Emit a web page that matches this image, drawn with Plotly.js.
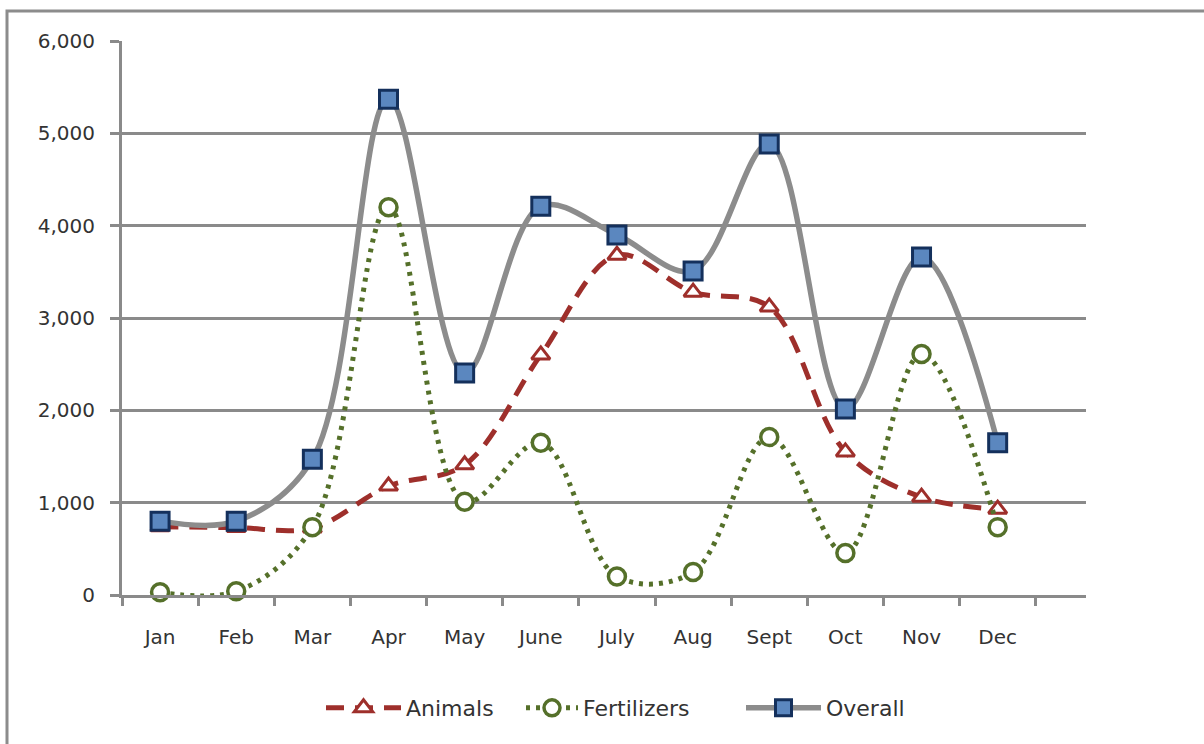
<!DOCTYPE html>
<html>
<head>
<meta charset="utf-8">
<script src="https://cdn.plot.ly/plotly-3.0.1.min.js"></script>
<style>html,body{margin:0;padding:0;background:#fff;}#chart{width:1204px;height:744px;}</style>
</head>
<body>
<div id="chart"></div>
<script>
var months = ["Jan","Feb","Mar","Apr","May","June","July","Aug","Sept","Oct","Nov","Dec"];
var animals = [740, 730, 725, 1180, 1410, 2600, 3680, 3280, 3120, 1550, 1060, 930];
var fertilizers = [30, 40, 735, 4200, 1010, 1650, 200, 250, 1710, 455, 2610, 735];
var overall = [800, 800, 1470, 5370, 2405, 4210, 3900, 3510, 4885, 2015, 3660, 1650];
var yTicks = [0, 1000, 2000, 3000, 4000, 5000, 6000];
var yTickText = ["0", "1,000", "2,000", "3,000", "4,000", "5,000", "6,000"];

var gridCol = "#8a8a8a";
var font = {family: "DejaVu Sans, Verdana, sans-serif", size: 20, color: "#333333"};

var traces = [
  {
    x: months, y: animals, name: "Animals", type: "scatter", mode: "lines+markers", legend: "legend",
    line: {color: "#9e2f2b", width: 5, dash: "18px,11px", shape: "spline", smoothing: 1},
    marker: {symbol: "triangle-up", size: 16, color: "#ffffff", line: {color: "#9e2f2b", width: 3}},
    cliponaxis: false
  },
  {
    x: months, y: fertilizers, name: "Fertilizers", type: "scatter", mode: "lines+markers", legend: "legend2",
    line: {color: "#55702a", width: 5, dash: "4px,6px", shape: "spline", smoothing: 1},
    marker: {symbol: "circle", size: 17, color: "#ffffff", line: {color: "#55702a", width: 3.5}},
    cliponaxis: false
  },
  {
    x: months, y: overall, name: "Overall", type: "scatter", mode: "lines+markers", legend: "legend3",
    line: {color: "#8c8c8c", width: 5.5, shape: "spline", smoothing: 1},
    marker: {symbol: "square", size: 18, color: "#5b87bf", line: {color: "#14305c", width: 3}},
    cliponaxis: false
  }
];

function legendAt(px, w) {
  return {
    orientation: "h", x: (px - 122) / 964, xanchor: "left", y: -0.204, yanchor: "middle",
    font: {family: "DejaVu Sans, Verdana, sans-serif", size: 22, color: "#333333"},
    itemwidth: w, borderwidth: 0, bgcolor: "rgba(0,0,0,0)"
  };
}

var layout = {
  width: 1204, height: 744,
  margin: {l: 122, r: 118, t: 41, b: 149},
  paper_bgcolor: "#ffffff", plot_bgcolor: "#ffffff",
  font: font,
  showlegend: true,
  legend: legendAt(321, 75),
  legend2: legendAt(521, 52),
  legend3: legendAt(741, 75),
  xaxis: {
    type: "category",
    range: [-0.5, 12.16],
    showgrid: false, zeroline: false,
    showline: true, linecolor: gridCol, linewidth: 3,
    ticks: "outside", tickson: "boundaries", ticklen: 8, tickwidth: 3, tickcolor: gridCol,
    tickfont: font, ticklabelstandoff: 22,
    fixedrange: true
  },
  yaxis: {
    range: [0, 6000],
    tickvals: yTicks, ticktext: yTickText,
    showgrid: true, gridcolor: gridCol, gridwidth: 3,
    zeroline: false,
    showline: true, linecolor: gridCol, linewidth: 3,
    ticks: "outside", ticklen: 9, tickwidth: 3, tickcolor: gridCol,
    tickfont: font, ticklabelstandoff: 11,
    fixedrange: true
  },
  shapes: [
    {type: "rect", xref: "paper", yref: "paper",
     x0: (7 - 122) / 964, x1: 1.3, y0: -0.4, y1: (595 - 11) / 554,
     line: {color: "#8c8c8c", width: 3}, fillcolor: "rgba(0,0,0,0)", layer: "below"}
  ]
};

Plotly.newPlot("chart", traces, layout, {displayModeBar: false, staticPlot: true});
</script>
</body>
</html>
